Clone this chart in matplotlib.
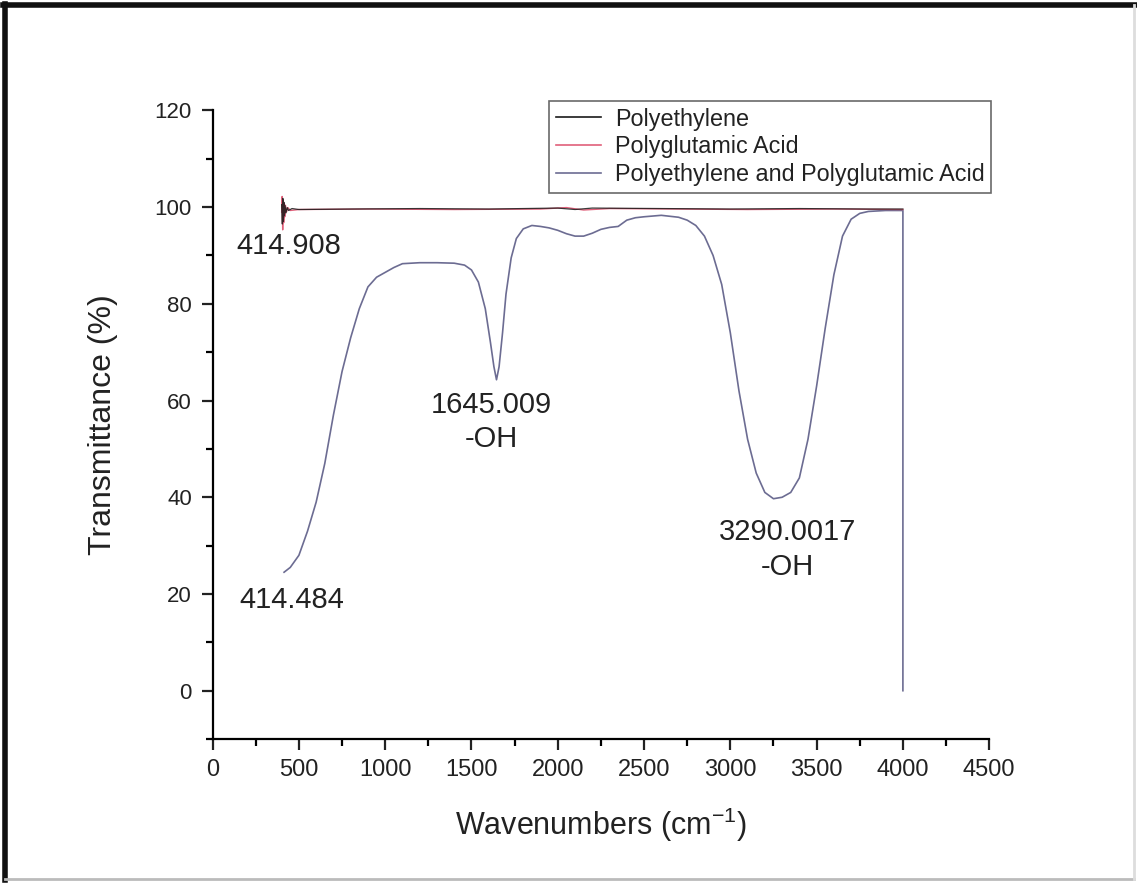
import matplotlib
matplotlib.use("Agg")
import matplotlib.pyplot as plt
from matplotlib.lines import Line2D
from matplotlib.ticker import MultipleLocator

plt.rcParams['font.family'] = ['Liberation Sans', 'DejaVu Sans']

# FTIR spectra (wavenumber, transmittance %)
pe_wn = [400, 404, 407, 410, 413, 416, 420, 425, 432, 440, 460, 500, 800, 1200,
         1600, 2000, 2100, 2200, 2600, 3000, 3400, 3800, 4000]
pe_t = [100.5, 96.5, 101.8, 97.0, 101.0, 98.2, 100.3, 98.8, 99.9, 99.3, 99.7, 99.5,
        99.6, 99.7, 99.6, 99.8, 99.5, 99.8, 99.7, 99.6, 99.7, 99.6, 99.6]

pga_wn = [400, 403, 406, 409, 412, 415, 418, 422, 428, 436, 450, 500, 900, 1400,
          1900, 2050, 2150, 2300, 2700, 3100, 3600, 4000]
pga_t = [99.0, 102.2, 95.3, 101.5, 96.8, 100.8, 98.0, 100.4, 99.0, 99.9, 99.3, 99.5,
         99.6, 99.5, 99.6, 99.9, 99.4, 99.7, 99.6, 99.5, 99.6, 99.5]

mix_wn = [414, 450, 500, 550, 600, 650, 700, 750, 800, 850, 900, 950, 1000, 1050,
          1100, 1200, 1300, 1400, 1460, 1500, 1540, 1580, 1610, 1630, 1645, 1660,
          1680, 1700, 1730, 1760, 1800, 1850, 1900, 1950, 2000, 2050, 2100, 2150,
          2200, 2250, 2300, 2350, 2400, 2450, 2500, 2600, 2700, 2750, 2800, 2850,
          2900, 2950, 3000, 3050, 3100, 3150, 3200, 3250, 3300, 3350, 3400, 3450,
          3500, 3550, 3600, 3650, 3700, 3750, 3800, 3900, 4000, 4000]
mix_t = [24.5, 25.5, 28.0, 33.0, 39.0, 47.0, 57.0, 66.0, 73.0, 79.0, 83.5, 85.5,
         86.5, 87.5, 88.3, 88.5, 88.5, 88.4, 88.0, 87.0, 84.5, 79.0, 72.0, 67.0,
         64.3, 67.0, 74.0, 82.0, 89.5, 93.5, 95.5, 96.2, 96.0, 95.7, 95.2, 94.5,
         94.0, 94.0, 94.6, 95.4, 95.8, 96.0, 97.3, 97.8, 98.0, 98.3, 97.9, 97.3,
         96.2, 94.0, 90.0, 84.0, 74.0, 62.0, 52.0, 45.0, 41.0, 39.7, 40.0, 41.0,
         44.0, 52.0, 63.0, 75.0, 86.0, 94.0, 97.5, 98.7, 99.1, 99.3, 99.3, 0.0]

labels = ['Polyethylene', 'Polyglutamic Acid', 'Polyethylene and Polyglutamic Acid']
colors = ['#1a1a1a', '#e0607a', '#6c6c92']

fig = plt.figure(figsize=(11.37, 8.83), dpi=100)
ax = fig.add_axes([0.187, 0.163, 0.683, 0.712])

ax.plot(mix_wn, mix_t, color=colors[2], lw=1.2, label=labels[2])
ax.plot(pga_wn, pga_t, color=colors[1], lw=1.0, label=labels[1])
ax.plot(pe_wn, pe_t, color=colors[0], lw=0.9, alpha=0.85, label=labels[0])

ax.set_xlim(0, 4500)
ax.set_ylim(-10, 120)
ax.xaxis.set_major_locator(MultipleLocator(500))
ax.xaxis.set_minor_locator(MultipleLocator(250))
ax.yaxis.set_major_locator(MultipleLocator(20))
ax.yaxis.set_minor_locator(MultipleLocator(10))
ax.spines['top'].set_visible(False)
ax.spines['right'].set_visible(False)
for s in ('left', 'bottom'):
    ax.spines[s].set_linewidth(1.6)
ax.tick_params(which='major', direction='out', length=8, width=1.6, labelsize=17,
               colors='#222222', pad=6)
ax.tick_params(which='minor', direction='out', length=5, width=1.6)
ax.tick_params(axis='y', which='major', pad=7, labelsize=16)

ax.set_xlabel('Wavenumbers (cm$^{\\mathregular{-1}}$)', fontsize=22, color='#222222',
              labelpad=18)
ax.set_ylabel('Transmittance (%)', fontsize=23, color='#222222', labelpad=26)

# peak annotations
ann_txt = ['414.908', '414.484', '1645.009\n-OH', '3290.0017\n-OH']
ann_x = [443, 461, 1613, 3329]
ann_y = [92.0, 18.7, 55.6, 29.2]
for t, x, y in zip(ann_txt, ann_x, ann_y):
    ax.text(x, y, t, fontsize=21, ha='center', va='center', color='#222222',
            linespacing=1.3)

handles = [Line2D([], [], color=c, lw=1.2) for c in colors]
leg = ax.legend(handles, labels, loc='upper right', bbox_to_anchor=(0.872, 0.886),
                bbox_transform=fig.transFigure, fontsize=16.8, frameon=True,
                fancybox=False, handlelength=1.9, handletextpad=0.6,
                borderpad=0.3, labelspacing=0.2, borderaxespad=0)
leg.get_frame().set_edgecolor('#444444')
leg.get_frame().set_linewidth(1.2)
for txt in leg.get_texts():
    txt.set_color('#222222')

# picture border: heavy top/left, faint bottom/right
fig.add_artist(Line2D([0.003, 0.998], [0.994, 0.994], color='#111111', lw=4,
                      transform=fig.transFigure))
fig.add_artist(Line2D([0.004, 0.004], [0.003, 0.995], color='#111111', lw=4,
                      transform=fig.transFigure))
fig.add_artist(Line2D([0.004, 0.997], [0.004, 0.004], color='#bbbbbb', lw=2,
                      transform=fig.transFigure))
fig.add_artist(Line2D([0.997, 0.997], [0.004, 0.994], color='#dddddd', lw=2,
                      transform=fig.transFigure))

fig.savefig('out.png', dpi=100)
